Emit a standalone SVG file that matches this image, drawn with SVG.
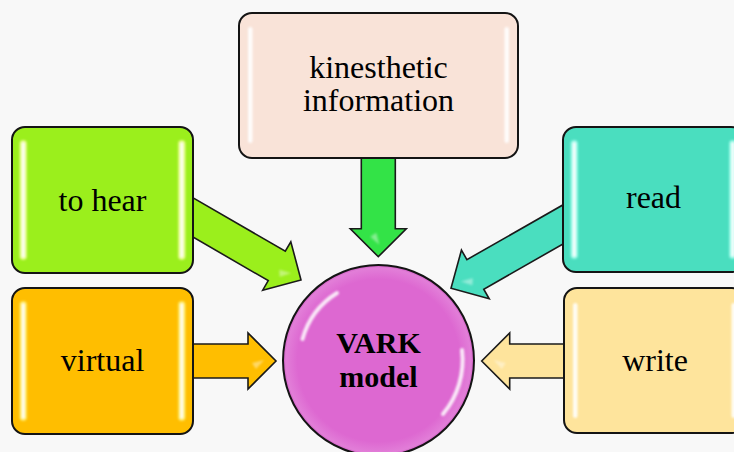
<svg xmlns="http://www.w3.org/2000/svg" width="734" height="452" viewBox="0 0 734 452">
<defs>
<style>
.box{stroke:#141414;stroke-width:2}
.arr{stroke:#1a1a1a;stroke-width:1.6;stroke-linejoin:miter}
.hl{fill:#ffffff;opacity:0.9}
.gl{fill:#ffffff;opacity:0.4}
.t{font-family:"Liberation Serif","Times New Roman",serif;font-size:32px;fill:#000;text-anchor:middle}
.tb{font-family:"Liberation Serif","Times New Roman",serif;font-size:30px;font-weight:bold;fill:#000;text-anchor:middle}
</style>
<filter id="soft" x="-80%" y="-10%" width="260%" height="120%"><feGaussianBlur stdDeviation="1"/></filter>
<radialGradient id="cg" cx="0.5" cy="0.5" r="0.5">
<stop offset="0.85" stop-color="#DD68D1"/>
<stop offset="0.97" stop-color="#E27ED8"/>
<stop offset="1" stop-color="#C957BD"/>
</radialGradient>
</defs>
<rect width="734" height="452" fill="#F8F8F8"/>
<g id="connectors">
<g transform="translate(301,280) rotate(30.1)">
<path class="arr" fill="#9BEF1C" d="M-140,-17 H-28 V-28 L0,0 L-28,28 V17 H-140 Z"/>
<path class="gl" d="M-24,2 L-12,-1 L-20,8 Z" filter="url(#soft)"/>
</g>
<g transform="translate(378.3,256.7) rotate(90)">
<path class="arr" fill="#33E347" d="M-110,-17 H-28 V-28 L0,0 L-28,28 V17 H-110 Z"/>
<path class="gl" d="M-24,2 L-12,-1 L-20,8 Z" filter="url(#soft)"/>
</g>
<g transform="translate(276,361)">
<path class="arr" fill="#FFBE00" d="M-95,-17 H-28 V-28 L0,0 L-28,28 V17 H-95 Z"/>
<path class="gl" d="M-24,2 L-12,-1 L-20,8 Z" filter="url(#soft)"/>
</g>
<g transform="translate(451,288.3) rotate(150.3)">
<path class="arr" fill="#4ADEBF" d="M-145,-17 H-28 V-28 L0,0 L-28,28 V17 H-145 Z"/>
<path class="gl" d="M-24,-2 L-12,1 L-20,-8 Z" filter="url(#soft)"/>
</g>
<g transform="translate(481.7,361) rotate(180)">
<path class="arr" fill="#FEE49C" d="M-95,-17 H-28 V-28 L0,0 L-28,28 V17 H-95 Z"/>
<path class="gl" d="M-24,-2 L-12,1 L-20,-8 Z" filter="url(#soft)"/>
</g>
</g>
<g id="node-hear">
<rect class="box" x="12" y="127" width="181" height="146" rx="13" fill="#9BEF1C"/>
<rect x="19.5" y="140" width="7.5" height="120" rx="3.7" fill="#F2FF9A" opacity="0.8" filter="url(#soft)"/>
<rect x="178" y="140" width="7.5" height="120" rx="3.7" fill="#F2FF9A" opacity="0.8" filter="url(#soft)"/>
<rect class="hl" x="21.5" y="142" width="3.5" height="116" rx="1.7" filter="url(#soft)"/>
<rect class="hl" x="180" y="142" width="3.5" height="116" rx="1.7" filter="url(#soft)"/>
<text class="t" x="102.5" y="211">to hear</text>
</g>
<g id="node-virtual">
<rect class="box" x="12" y="288" width="181" height="146" rx="13" fill="#FFBE00"/>
<rect x="19.5" y="301" width="7.5" height="120" rx="3.7" fill="#FFF27A" opacity="0.8" filter="url(#soft)"/>
<rect x="178" y="301" width="7.5" height="120" rx="3.7" fill="#FFF27A" opacity="0.8" filter="url(#soft)"/>
<rect class="hl" x="21.5" y="303" width="3.5" height="116" rx="1.7" filter="url(#soft)"/>
<rect class="hl" x="180" y="303" width="3.5" height="116" rx="1.7" filter="url(#soft)"/>
<text class="t" x="102.5" y="371">virtual</text>
</g>
<g id="node-kinesthetic">
<rect class="box" x="239" y="13" width="279" height="145" rx="13" fill="#F9E3D8"/>
<rect class="hl" x="248" y="27" width="4.5" height="116" rx="2.2" filter="url(#soft)"/>
<rect class="hl" x="504.5" y="27" width="4.5" height="116" rx="2.2" filter="url(#soft)"/>
<text class="t" x="378.5" y="78">kinesthetic</text>
<text class="t" x="378.5" y="111">information</text>
</g>
<g id="node-read">
<rect class="box" x="563" y="127" width="181" height="145" rx="13" fill="#4ADEBF"/>
<rect x="570.5" y="140" width="7.5" height="119" rx="3.7" fill="#A8FFF0" opacity="0.8" filter="url(#soft)"/>
<rect x="729" y="140" width="7.5" height="119" rx="3.7" fill="#A8FFF0" opacity="0.8" filter="url(#soft)"/>
<rect class="hl" x="572.5" y="142" width="3.5" height="115" rx="1.7" filter="url(#soft)"/>
<rect class="hl" x="731" y="142" width="3.5" height="115" rx="1.7" filter="url(#soft)"/>
<text class="t" x="653.5" y="208">read</text>
</g>
<g id="node-write">
<rect class="box" x="564" y="288" width="181" height="145" rx="13" fill="#FEE49C"/>
<rect class="hl" x="573" y="303" width="4.5" height="115" rx="2.2" filter="url(#soft)"/>
<rect class="hl" x="731.5" y="303" width="4.5" height="115" rx="2.2" filter="url(#soft)"/>
<text class="t" x="655" y="371">write</text>
</g>
<g id="node-vark">
<circle cx="378.5" cy="360.5" r="95.5" fill="url(#cg)" stroke="#141414" stroke-width="2"/>
<path d="M302.5,339 A79,79 0 0 1 337,293" fill="none" stroke="#fff" stroke-width="4" stroke-linecap="round" opacity="0.85" filter="url(#soft)"/>
<path d="M462,350 A84,84 0 0 1 443,414" fill="none" stroke="#fff" stroke-width="4" stroke-linecap="round" opacity="0.85" filter="url(#soft)"/>
<text class="tb" x="378.5" y="353">VARK</text>
<text class="tb" x="378.5" y="387">model</text>
</g>
</svg>
